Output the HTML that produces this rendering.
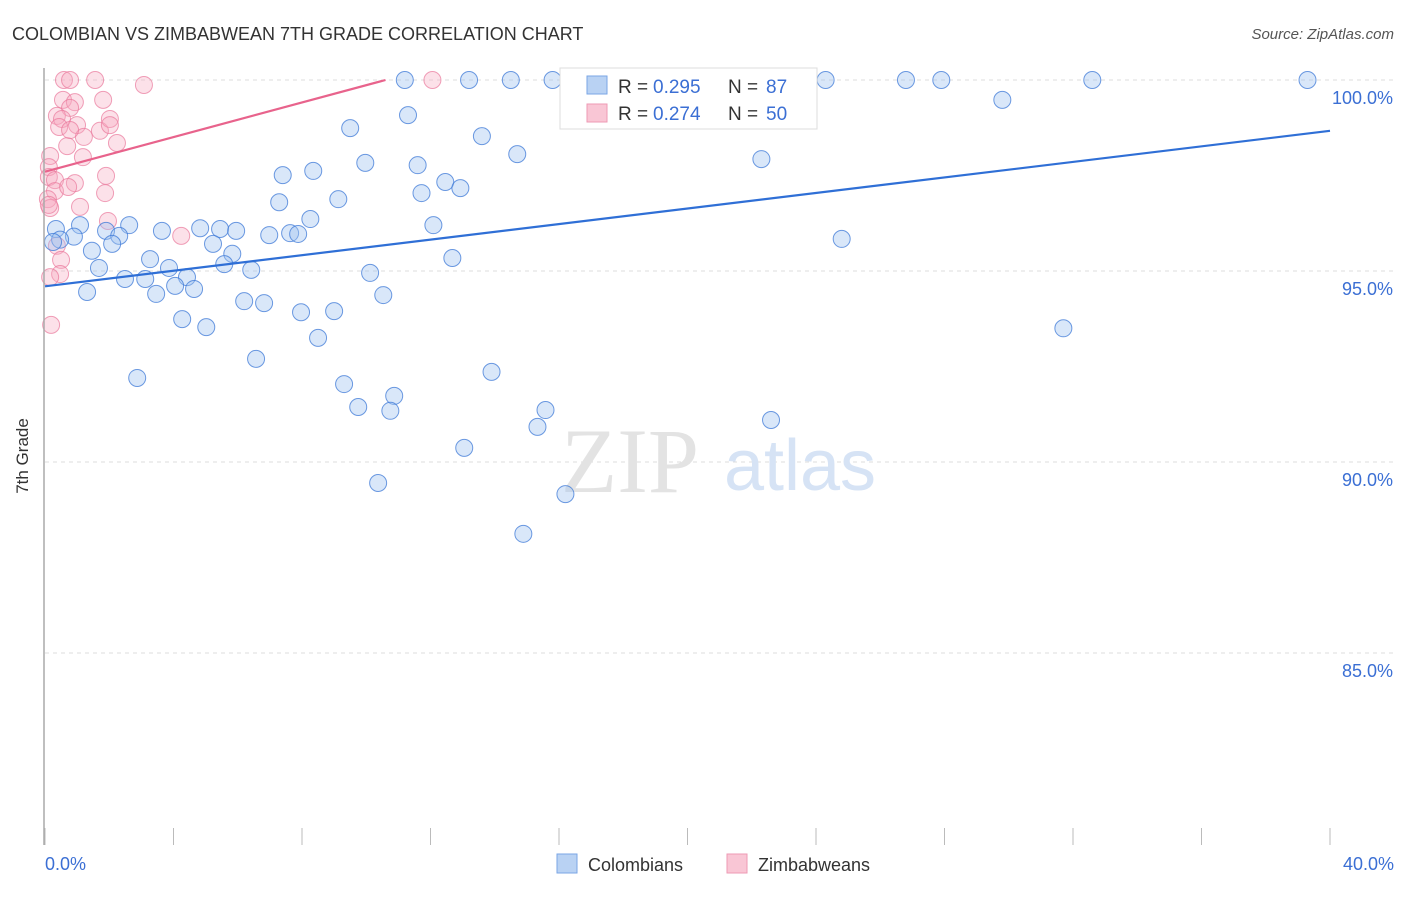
<!DOCTYPE html>
<html><head><meta charset="utf-8"><style>
body{margin:0;background:#fff;font-family:"Liberation Sans",sans-serif;}
svg text{font-family:"Liberation Sans",sans-serif;}
</style></head><body>
<svg id="c" width="1406" height="892" viewBox="0 0 1406 892">
<text x="12" y="40" font-size="18" fill="#333">COLOMBIAN VS ZIMBABWEAN 7TH GRADE CORRELATION CHART</text>
<text x="1394" y="39" font-size="15" fill="#555" text-anchor="end" font-style="italic">Source: ZipAtlas.com</text>
<text x="28" y="456" font-size="17" fill="#333" text-anchor="middle" transform="rotate(-90 28 456)">7th Grade</text>
<g id="grid"></g>
<text x="630" y="492" font-size="92" fill="#e3e3e3" text-anchor="middle" style="font-family:'Liberation Serif',serif">ZIP</text>
<text x="800" y="490" font-size="72" fill="#d6e3f5" text-anchor="middle">atlas</text>
<g id="pts"></g>
<g id="lines"></g>
<line x1="44" y1="68" x2="44" y2="845" stroke="#aaa" stroke-width="1.5"/>
<text x="45" y="870" font-size="18" fill="#3b6fd4">0.0%</text>
<text x="1394" y="870" font-size="18" fill="#3b6fd4" text-anchor="end">40.0%</text>
<g>
<rect x="560" y="68" width="257" height="61" fill="#fff" stroke="#ddd"/>
<rect x="587" y="76" width="20" height="18" fill="#b9d2f3" stroke="#7aa6e6"/>
<text x="618" y="93" font-size="19" fill="#333">R = </text><text x="653" y="93" font-size="19" fill="#3b6fd4">0.295</text>
<text x="728" y="93" font-size="19" fill="#333">N = </text><text x="766" y="93" font-size="19" fill="#3b6fd4">87</text>
<rect x="587" y="104" width="20" height="18" fill="#f9c6d5" stroke="#ee9ab4"/>
<text x="618" y="120" font-size="19" fill="#333">R = </text><text x="653" y="120" font-size="19" fill="#3b6fd4">0.274</text>
<text x="728" y="120" font-size="19" fill="#333">N = </text><text x="766" y="120" font-size="19" fill="#3b6fd4">50</text>
</g>
<g><rect x="557" y="854" width="20" height="19" fill="#b9d2f3" stroke="#7aa6e6"/><text x="588" y="871" font-size="18" fill="#333">Colombians</text></g>
<g><rect x="727" y="854" width="20" height="19" fill="#f9c6d5" stroke="#ee9ab4"/><text x="758" y="871" font-size="18" fill="#333">Zimbabweans</text></g>
</svg>
<script>
const yTicks=[100,95,90,85];
const xTickCount=10;
const blueX=[11.2,13.2,14.5,15.8,24.3,26.8,27.9,32.6,39.3,29.8,11.3,9.5,13.6,14.7,22.3,9.97,11.6,7.4,8.35,12.46,12.93,11.72,9.13,7.29,8.26,12.09,0.34,1.09,2.62,3.64,4.83,5.45,5.95,6.98,7.63,7.88,1.9,2.31,0.9,0.47,0.25,24.8,5.23,2.09,1.46,5.83,12.68,3.27,5.58,1.68,3.86,6.42,10.12,2.49,3.12,4.42,4.05,4.64,3.46,1.31,10.53,6.2,6.82,7.97,9.0,4.27,5.02,31.7,8.5,6.57,13.9,2.87,9.31,10.87,9.75,10.75,15.58,22.6,15.33,13.05,10.37,16.2,14.89];
const blueY=[100,100,100,100,100,100,100,100,100,99.48,99.08,98.74,98.53,98.06,97.93,97.83,97.77,97.51,97.62,97.33,97.17,97.04,96.88,96.8,96.36,96.2,96.1,96.2,96.2,96.05,96.12,96.1,96.05,95.94,95.99,95.97,96.05,95.92,95.9,95.82,95.76,95.84,95.71,95.71,95.53,95.45,95.34,95.31,95.18,95.08,95.08,95.03,94.95,94.79,94.79,94.84,94.61,94.53,94.4,94.45,94.37,94.21,94.16,93.92,93.95,93.74,93.53,93.5,93.25,92.7,92.36,92.2,92.04,91.73,91.44,91.34,91.36,91.1,90.92,90.37,89.45,89.16,88.12];
const pinkX=[0.59,0.78,1.56,12.06,3.08,0.56,0.93,1.81,0.78,0.37,0.53,0.44,0.997,1.71,2.02,1.21,2.24,0.69,1.18,0.16,0.12,0.12,0.31,1.9,0.93,1.87,0.31,0.09,0.72,0.16,1.09,1.96,0.12,4.24,0.37,0.5,0.47,0.16,0.19,0.78,2.02];
const pinkY=[100,100,100,100,99.87,99.48,99.42,99.48,99.27,99.06,98.98,98.77,98.82,98.67,98.98,98.51,98.35,98.27,97.98,98.01,97.72,97.46,97.38,97.49,97.3,97.04,97.09,96.88,97.2,96.65,96.68,96.31,96.73,95.92,95.66,95.29,94.92,94.84,93.59,98.69,98.82];
const blueTrend=[0,94.6,40,98.67];
const pinkTrend=[0,97.6,10.6,100];
const X=v=>45+v*(1285/40), Y=v=>80+(100-v)*38.2;
const NS="http://www.w3.org/2000/svg";
const mk=(p,t,a)=>{const e=document.createElementNS(NS,t);for(const k in a)e.setAttribute(k,a[k]);p.appendChild(e);return e;};
const grid=document.getElementById('grid');
yTicks.forEach(t=>{
 const l=mk(grid,'line',{x1:45,x2:1393,y1:Y(t),y2:Y(t),stroke:'#ddd','stroke-dasharray':'4,4'});
 
 
 const tx=mk(grid,'text',{x:1393,y:Y(t)+24,'font-size':18,fill:'#3b6fd4','text-anchor':'end'});
 tx.textContent=t.toFixed(1)+'%';
 
 
});
for(let i=0;i<=xTickCount;i++){
 const l=mk(grid,'line',{x1:X(i*4),x2:X(i*4),y1:828,y2:845,stroke:'#bbb'});
 
 
}
const pts=document.getElementById('pts');
pinkX.forEach((x,i)=>{
 const c=mk(pts,'circle',{cx:X(x),cy:Y(pinkY[i]),r:8.5,fill:'rgba(246,168,192,0.35)',stroke:'rgba(234,120,155,0.7)','stroke-width':1});
 
 
});
blueX.forEach((x,i)=>{
 const c=mk(pts,'circle',{cx:X(x),cy:Y(blueY[i]),r:8.5,fill:'rgba(160,195,240,0.4)',stroke:'rgba(60,120,215,0.75)','stroke-width':1});
 
 
});
const ln=document.getElementById('lines');
const b=mk(ln,'line',{x1:X(blueTrend[0]),y1:Y(blueTrend[1]),x2:X(blueTrend[2]),y2:Y(blueTrend[3]),stroke:'#2f6fd6','stroke-width':2.2});


const p=mk(ln,'line',{x1:X(pinkTrend[0]),y1:Y(pinkTrend[1]),x2:X(pinkTrend[2]),y2:Y(pinkTrend[3]),stroke:'#e8638c','stroke-width':2.2});


</script>
</body></html>
